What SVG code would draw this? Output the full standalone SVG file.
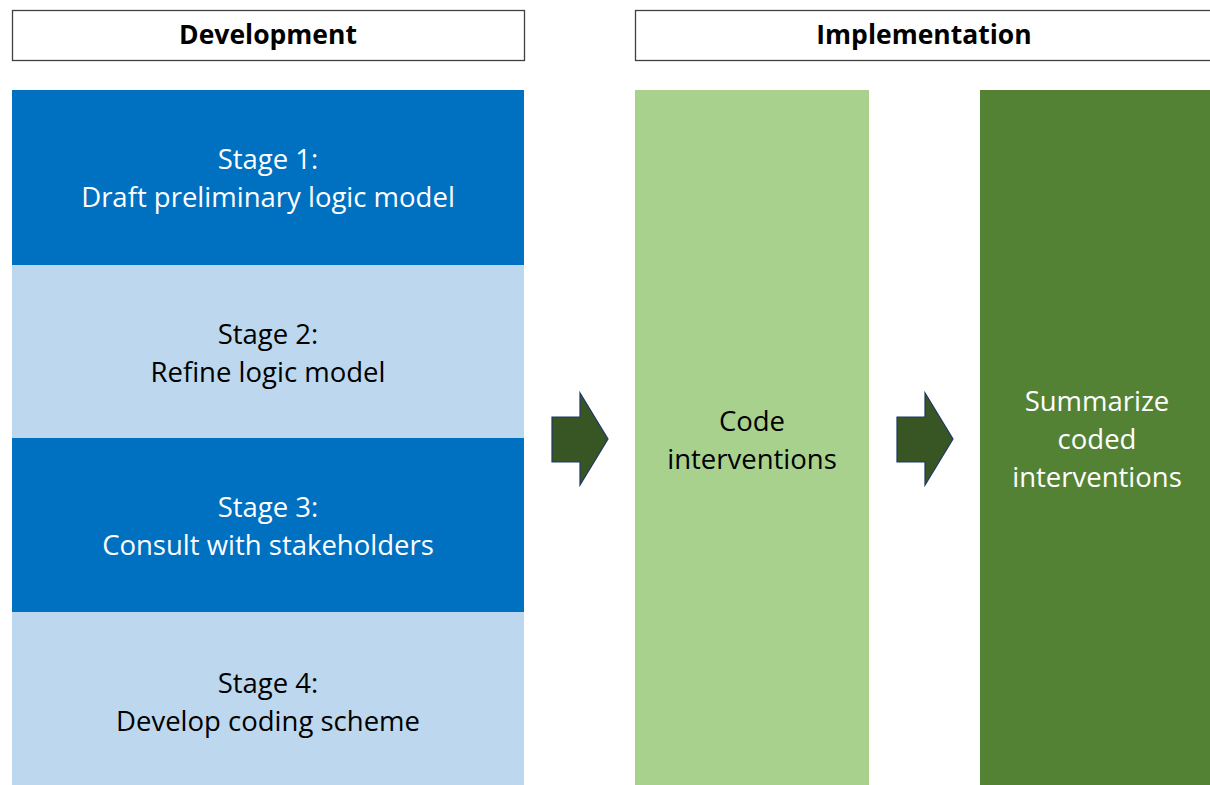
<svg xmlns="http://www.w3.org/2000/svg" width="1210" height="785" viewBox="0 0 1210 785">
<style>
.hdr{fill:#fff;stroke:#404040;stroke-width:1.3}
.ht{font-family:"Open Sans","Liberation Sans",sans-serif;font-weight:bold;font-size:26.5px;fill:#000;text-anchor:middle}
.t{font-family:"Open Sans","Liberation Sans",sans-serif;font-size:27.5px;text-anchor:middle}
.w{fill:#fff}
.k{fill:#000}
.arrow{fill:#375623;stroke:#1f3864;stroke-width:1.2;stroke-linejoin:miter}
</style>
<rect width="1210" height="785" fill="#fff"/>
<g id="header-development">
<rect class="hdr" x="12.5" y="10.5" width="512" height="50"/>
<text class="ht" x="268" y="44">Development</text>
</g>
<g id="header-implementation">
<rect class="hdr" x="635.5" y="10.5" width="580" height="50"/>
<text class="ht" x="924" y="44">Implementation</text>
</g>
<g id="stage1">
<rect x="12" y="90" width="512" height="175" fill="#0070C0"/>
<text class="t w" x="268" y="169">Stage 1:</text>
<text class="t w" x="268" y="207">Draft preliminary logic model</text>
</g>
<g id="stage2">
<rect x="12" y="265" width="512" height="173" fill="#BDD7EE"/>
<text class="t k" x="268" y="344">Stage 2:</text>
<text class="t k" x="268" y="382">Refine logic model</text>
</g>
<g id="stage3">
<rect x="12" y="438" width="512" height="174" fill="#0070C0"/>
<text class="t w" x="268" y="517">Stage 3:</text>
<text class="t w" x="268" y="555">Consult with stakeholders</text>
</g>
<g id="stage4">
<rect x="12" y="612" width="512" height="173" fill="#BDD7EE"/>
<text class="t k" x="268" y="693">Stage 4:</text>
<text class="t k" x="268" y="731">Develop coding scheme</text>
</g>
<g id="code">
<rect x="635" y="90" width="234" height="695" fill="#A9D18E"/>
<text class="t k" x="752" y="431">Code</text>
<text class="t k" x="752" y="469">interventions</text>
</g>
<g id="summarize">
<rect x="980" y="90" width="230" height="695" fill="#548235"/>
<text class="t w" x="1097" y="411">Summarize</text>
<text class="t w" x="1097" y="449">coded</text>
<text class="t w" x="1097" y="487">interventions</text>
</g>
<g id="connectors">
<polygon class="arrow" points="552,417 580,417 580,393 608,439 580,485 580,462 552,462"/>
<polygon class="arrow" points="897,417 925,417 925,393 953,439 925,485 925,462 897,462"/>
</g>
</svg>
